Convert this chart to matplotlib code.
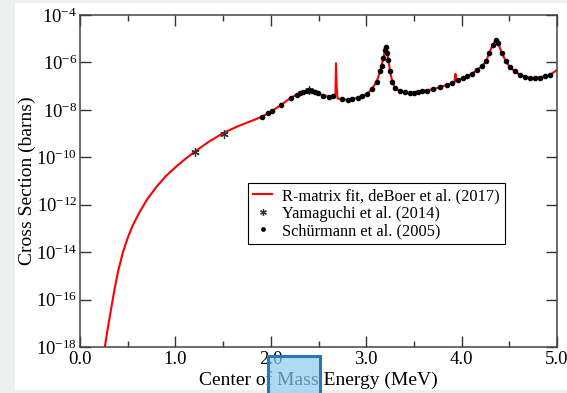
import matplotlib
matplotlib.use("Agg")
import matplotlib.pyplot as plt
from matplotlib.patches import Rectangle
from matplotlib.ticker import FixedLocator, FixedFormatter, MultipleLocator, NullLocator

# ---- data ----
fit_E = [0.24, 0.26, 0.28, 0.30, 0.33, 0.36, 0.40, 0.45, 0.50, 0.55, 0.62, 0.70,
         0.80, 0.90, 1.00, 1.10, 1.20, 1.35, 1.50, 1.65, 1.78, 1.91, 2.016, 2.107,
         2.212, 2.306, 2.376, 2.404, 2.463, 2.55, 2.61, 2.665, 2.678, 2.683, 2.690,
         2.70, 2.75, 2.806, 2.91, 3.005, 3.057, 3.11, 3.145, 3.18, 3.197, 3.204,
         3.218, 3.232, 3.25, 3.274, 3.30, 3.354, 3.407, 3.459, 3.546, 3.704, 3.844,
         3.925, 3.935, 3.945, 4.018, 4.106, 4.21, 4.256, 4.29, 4.326, 4.357, 4.385,
         4.42, 4.465, 4.507, 4.56, 4.612, 4.717, 4.77, 4.874, 4.927, 5.0]
fit_S = [2.5e-19, 1.0e-18, 3.2e-18, 1.0e-17, 5.0e-17, 2.5e-16, 1.6e-15, 1.0e-14,
         4.0e-14, 1.26e-13, 4.5e-13, 1.6e-12, 5.6e-12, 1.6e-11, 3.8e-11, 8.3e-11,
         1.7e-10, 4.5e-10, 1.05e-9, 2.0e-9, 3.2e-9, 5.2e-9, 9.1e-9, 1.6e-8, 3.3e-8,
         5.0e-8, 6.5e-8, 6.9e-8, 5.9e-8, 4.0e-8, 3.6e-8, 3.8e-8, 5.0e-8, 9.3e-7,
         1.0e-7, 3.0e-8, 2.8e-8, 2.6e-8, 3.3e-8, 4.6e-8, 7.4e-8, 1.55e-7, 4.2e-7,
         1.5e-6, 3.4e-6, 4.3e-6, 2.5e-6, 1.3e-6, 4.2e-7, 1.55e-7, 8.7e-8, 6.3e-8,
         5.6e-8, 5.0e-8, 5.9e-8, 7.4e-8, 1.12e-7, 1.45e-7, 3.3e-7, 1.6e-7, 2.2e-7,
         3.3e-7, 6.8e-7, 1.1e-6, 2.5e-6, 5.5e-6, 8.9e-6, 6.5e-6, 2.5e-6, 1.1e-6,
         6.3e-7, 4.2e-7, 3.0e-7, 2.2e-7, 2.2e-7, 2.6e-7, 3.0e-7, 4.8e-7]

yam_E = [1.205, 1.51, 2.40]
yam_S = [1.7e-10, 1.0e-9, 6.9e-8]

sch_E = [1.911, 1.967, 2.016, 2.107, 2.212, 2.27, 2.306, 2.34, 2.376, 2.404, 2.435,
         2.463, 2.498, 2.55, 2.61, 2.655, 2.75, 2.806, 2.855, 2.91, 2.96, 3.005,
         3.057, 3.11, 3.145, 3.162, 3.18, 3.197, 3.204, 3.218, 3.232, 3.25, 3.274,
         3.30, 3.354, 3.407, 3.459, 3.50, 3.546, 3.59, 3.634, 3.704, 3.774, 3.844,
         3.896, 3.966, 4.018, 4.053, 4.106, 4.158, 4.21, 4.256, 4.29, 4.326, 4.357,
         4.385, 4.42, 4.465, 4.507, 4.56, 4.612, 4.665, 4.717, 4.77, 4.822, 4.874,
         4.927]
sch_S = [5.2e-9, 7.2e-9, 9.1e-9, 1.6e-8, 3.3e-8, 4.3e-8, 5.0e-8, 5.9e-8, 6.5e-8,
         6.9e-8, 6.3e-8, 5.9e-8, 5.0e-8, 4.0e-8, 3.6e-8, 3.9e-8, 2.8e-8, 2.6e-8,
         2.9e-8, 3.3e-8, 3.9e-8, 4.6e-8, 7.4e-8, 1.55e-7, 4.2e-7, 6.8e-7, 1.5e-6,
         3.4e-6, 4.3e-6, 2.5e-6, 1.3e-6, 4.2e-7, 1.55e-7, 8.7e-8, 6.3e-8, 5.6e-8,
         5.0e-8, 5.3e-8, 5.9e-8, 6.2e-8, 6.5e-8, 7.4e-8, 9.1e-8, 1.12e-7, 1.35e-7,
         1.86e-7, 2.2e-7, 2.7e-7, 3.3e-7, 4.6e-7, 6.8e-7, 1.1e-6, 2.5e-6, 5.5e-6,
         8.9e-6, 6.5e-6, 2.5e-6, 1.1e-6, 6.3e-7, 4.2e-7, 3.0e-7, 2.4e-7, 2.2e-7,
         2.2e-7, 2.3e-7, 2.6e-7, 3.0e-7]

x_ticks = [0.0, 1.0, 2.0, 3.0, 4.0, 5.0]
x_ticklabels = ["0.0", "1.0", "2.0", "3.0", "4.0", "5.0"]
y_ticks = [1e-18, 1e-16, 1e-14, 1e-12, 1e-10, 1e-8, 1e-6, 1e-4]
y_ticklabels = ["$10^{-18}$", "$10^{-16}$", "$10^{-14}$", "$10^{-12}$",
                "$10^{-10}$", "$10^{-8}$", "$10^{-6}$", "$10^{-4}$"]

labels = ["R-matrix fit, deBoer et al. (2017)", "Yamaguchi et al. (2014)",
          "Schürmann et al. (2005)"]

# ---- style ----
plt.rcParams["font.family"] = ["Liberation Serif", "DejaVu Serif"]
plt.rcParams["mathtext.fontset"] = "custom"
plt.rcParams["mathtext.rm"] = "Liberation Serif"
plt.rcParams["mathtext.it"] = "Liberation Serif:italic"
plt.rcParams["mathtext.bf"] = "Liberation Serif:bold"

W, H = 567, 393
fig = plt.figure(figsize=(W / 100, H / 100), dpi=100, facecolor="#eef0f0")
# white page panel (behind everything)
fig.patches.append(Rectangle((15 / W, 1 - 390 / H), 1 - 15 / W, (390 - 3) / H,
                             transform=fig.transFigure, facecolor="white",
                             edgecolor="none", zorder=-10))

ax = fig.add_axes([80 / W, 1 - 347 / H, (557 - 80) / W, (347 - 15) / H])
ax.set_facecolor("white")
ax.set_zorder(1)

ax.plot(fit_E, fit_S, color="#ff0000", lw=1.5, label=labels[0], zorder=2)
ax.plot(yam_E, yam_S, linestyle="none", marker=(6, 2, 0), ms=6, mew=0.9,
        color="#333333", label=labels[1], zorder=3)
ax.plot(sch_E, sch_S, linestyle="none", marker="o", ms=3.0, color="black",
        label=labels[2], zorder=4)

ax.set_yscale("log")
ax.set_xlim(0, 5)
ax.set_ylim(1e-18, 1e-4)

ax.xaxis.set_major_locator(FixedLocator(x_ticks))
ax.xaxis.set_major_formatter(FixedFormatter(x_ticklabels))
ax.xaxis.set_minor_locator(MultipleLocator(0.5))
ax.yaxis.set_major_locator(FixedLocator(y_ticks))
ax.yaxis.set_major_formatter(FixedFormatter(y_ticklabels))
ax.yaxis.set_minor_locator(NullLocator())

ax.tick_params(which="both", direction="in", top=True, right=True,
               colors="#333333", labelcolor="black", labelsize=13.5)
ax.tick_params(which="major", length=8, width=1)
ax.tick_params(which="minor", length=4, width=1)
ax.tick_params(axis="x", pad=3)
ax.tick_params(axis="y", pad=2)
for s in ax.spines.values():
    s.set_color("#444444")
    s.set_linewidth(1.1)

ax.set_xlabel("Center of Mass Energy (MeV)", fontsize=14, labelpad=2)
ax.set_ylabel("Cross Section (barns)", fontsize=14, labelpad=0)

leg = ax.legend(loc="upper left", bbox_to_anchor=(0.352, 0.494), fontsize=11.8,
                frameon=True, fancybox=False, framealpha=1, edgecolor="black",
                handlelength=1.2, handletextpad=0.6, labelspacing=0.1,
                borderpad=0.3, borderaxespad=0.0, markerscale=0.8)
leg.get_frame().set_linewidth(0.8)

# blue highlight overlay near the x label
ov = Rectangle((268 / W, -0.02), (320 - 268) / W, (393 - 356) / H + 0.02,
               transform=fig.transFigure, facecolor="#8ccbf0", alpha=0.7,
               edgecolor="none", zorder=10)
ov2 = Rectangle((268 / W, -0.02), (320 - 268) / W, (393 - 356) / H + 0.02,
                transform=fig.transFigure, facecolor="none",
                edgecolor="#2a79b6", lw=2.2, zorder=11)
fig.patches.extend([ov, ov2])

fig.savefig("out.png", dpi=100, facecolor=fig.get_facecolor())
